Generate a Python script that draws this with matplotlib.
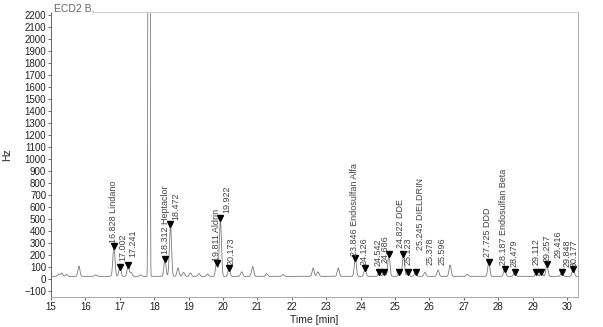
import numpy as np
import matplotlib
matplotlib.use('Agg')
import matplotlib.pyplot as plt

# 字体 (Arial 同款)
plt.rcParams['font.family'] = ['Liberation Sans', 'DejaVu Sans']

# 标记的峰: 保留时间 / 峰高(Hz) / 名称
peak_rt = [16.828, 17.002, 17.241, 18.312, 18.472, 19.811, 19.922, 20.173,
           23.846, 24.126, 24.542, 24.686, 24.822, 25.123, 25.245, 25.378, 25.596,
           27.725, 28.187, 28.479, 29.112, 29.257, 29.416, 29.848, 30.177]
peak_hz = [277, 103, 114, 167, 458, 133, 508, 88,
           178, 88, 61, 61, 208, 61, 208, 61, 61,
           142, 83, 61, 61, 61, 125, 61, 83]
peak_name = ['16.828 Lindano', '17.002', '17.241', '18.312 Heptaclor', '18.472', '19.811 Aldrin', '19.922',
             '20.173', '23.846 Endosulfan Alfa', '24.126', '24.542', '24.686', '24.822 DDE', '25.123',
             '25.245 DIELDRIN', '25.378', '25.596', '27.725 DDD', '28.187 Endosulfan Beta', '28.479',
             '29.112', '29.257', '29.416', '29.848', '30.177']

# 未标记的小峰
minor_rt = [15.22, 15.31, 15.45, 15.81, 16.30, 17.33, 17.60, 18.69, 18.85, 19.05, 19.30, 19.55,
            20.54, 20.86, 21.27, 21.75, 22.62, 22.76, 23.35, 25.87, 26.25, 26.60, 27.10]
minor_hz = [40, 50, 38, 108, 35, 55, 35, 92, 55, 50, 45, 40,
            60, 104, 45, 38, 92, 60, 92, 55, 75, 117, 40]

# 溶剂峰 (超出量程)
solvent_rt = 17.85
solvent_hz = 100000
baseline_hz = 22

# 标签位置 (时间, Hz)
label_x = [16.83, 17.08, 17.39, 18.33, 18.63, 19.80, 20.12, 20.22,
           23.83, 24.10, 24.51, 24.72, 25.15, 25.38, 25.73, 26.02, 26.37,
           27.70, 28.14, 28.46, 29.10, 29.42, 29.74, 30.00, 30.22]
label_y = [300, 150, 185, 208, 492, 150, 550, 118,
           192, 117, 108, 133, 258, 117, 242, 117, 117,
           183, 117, 100, 117, 142, 175, 100, 100]


def gauss_sum(t, rts, heights, sigma):
    y = np.zeros_like(t)
    for rt, h in zip(rts, heights):
        y += (h - baseline_hz) * np.exp(-0.5 * ((t - rt) / sigma) ** 2)
    return y


def plot_chromatogram(filename='out.png'):
    t = np.arange(15.0, 30.35, 0.001)
    signal = baseline_hz + gauss_sum(t, peak_rt, peak_hz, 0.03) + gauss_sum(t, minor_rt, minor_hz, 0.03)
    signal += gauss_sum(t, [solvent_rt], [solvent_hz], 0.014)

    fig = plt.figure(figsize=(6.03, 3.27), dpi=100)
    ax = fig.add_axes([0.0846, 0.0917, 0.874, 0.8716])
    ax.plot(t, signal, color='#7a7a7a', linewidth=0.6)
    # 峰顶标记
    ax.plot(peak_rt, peak_hz, linestyle='none', marker='v', color='black', markersize=4.5)
    # 峰标签
    for name, x, y in zip(peak_name, label_x, label_y):
        ax.text(x, y, name, rotation=90, ha='center', va='bottom', fontsize=6.5, color='#444444',
                clip_on=True)

    ax.set_xlim(15.0, 30.32)
    ax.set_ylim(-150, 2225)
    ax.set_xticks(range(15, 31))
    ax.set_yticks(range(-100, 2201, 100))
    ax.tick_params(axis='both', labelsize=7, length=2, width=0.6, colors='#555555', labelcolor='#222222', pad=1.5)
    ax.set_xlabel('Time [min]', fontsize=7.5, color='#222222', labelpad=2)
    ax.set_ylabel('Hz', fontsize=7.5, color='#222222', labelpad=9)
    ax.spines['left'].set_color('#666666')
    for side in ['bottom', 'right']:
        ax.spines[side].set_color('#aaaaaa')
    ax.spines['top'].set_color('#cccccc')
    for sp in ax.spines.values():
        sp.set_linewidth(0.7)
    ax.text(0.006, 0.995, 'ECD2 B,', transform=ax.transAxes, fontsize=7.5, color='#666666',
            ha='left', va='bottom', bbox=dict(facecolor='white', edgecolor='none', pad=0.5))
    plt.savefig(filename, dpi=100)


if __name__ == '__main__':
    plot_chromatogram()
